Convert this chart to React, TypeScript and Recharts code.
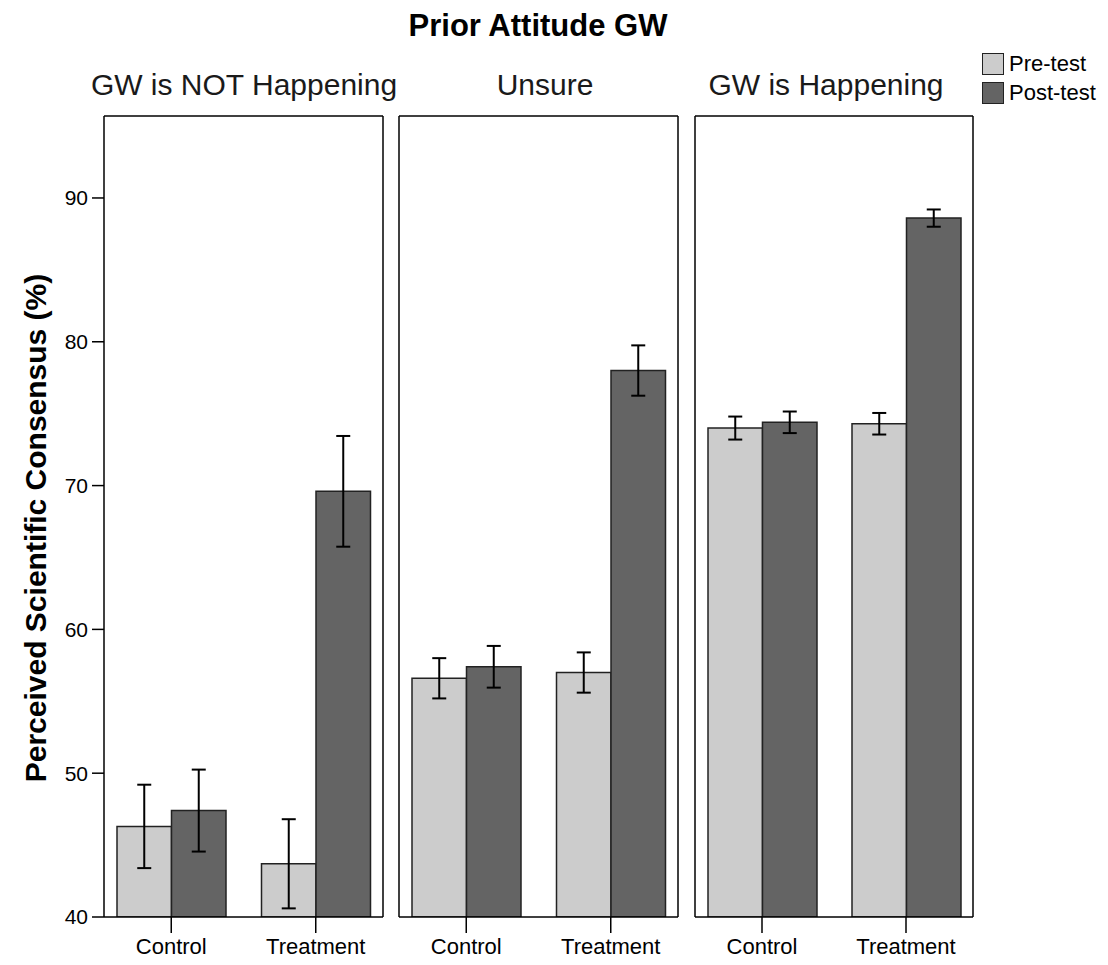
import { Bar, BarChart, ErrorBar, Label, Legend, XAxis, YAxis } from 'recharts';

const groups = ['Control', 'Treatment'];
const attitudes = ['GW is NOT Happening', 'Unsure', 'GW is Happening'];
const preTest = [[46.3, 43.7], [56.6, 57.0], [74.0, 74.3]];
const postTest = [[47.4, 69.6], [57.4, 78.0], [74.4, 88.6]];
const preErr = [[2.9, 3.1], [1.4, 1.4], [0.8, 0.75]];
const postErr = [[2.85, 3.85], [1.45, 1.75], [0.75, 0.6]];
const yTicks = [40, 50, 60, 70, 80, 90];

const font = '"Liberation Sans", Arial, sans-serif';
const PRE = '#cccccc';
const POST = '#646464';
const EDGE = '#222222';
const frame = { stroke: '#000', strokeWidth: 1.5 };

// margins leave room for 1px frame axes (top x axis, right y axis, left y axis on panels 2-3)
const panels = [
  { left: 0, width: 390, margin: { top: 115, right: 6, bottom: 0, left: 0 }, yWidth: 104, titleX: 244 },
  { left: 390, width: 300, margin: { top: 115, right: 11, bottom: 0, left: 8 }, yWidth: 1, titleX: 545 },
  { left: 690, width: 418, margin: { top: 115, right: 134, bottom: 0, left: 4 }, yWidth: 1, titleX: 826 },
];

function LegendBox() {
  const items = [
    { name: 'Pre-test', color: PRE },
    { name: 'Post-test', color: POST },
  ];
  return (
    <div style={{ fontFamily: font, fontSize: 22, color: '#000' }}>
      {items.map((it) => (
        <div key={it.name} style={{ display: 'flex', alignItems: 'center', height: 22, marginBottom: 7 }}>
          <div style={{ width: 22, height: 22, boxSizing: 'border-box', background: it.color, border: '1.5px solid ' + EDGE, marginRight: 5 }} />
          <span>{it.name}</span>
        </div>
      ))}
    </div>
  );
}

function Panel({ idx }: { idx: number }) {
  const p = panels[idx];
  const data = groups.map((g, j) => ({
    group: g,
    pre: preTest[idx][j],
    post: postTest[idx][j],
    preErr: preErr[idx][j],
    postErr: postErr[idx][j],
  }));
  return (
    <div style={{ position: 'absolute', left: p.left, top: 0 }}>
      <BarChart width={p.width} height={965} data={data} margin={p.margin} barGap={0} barSize={54.5}>
        <XAxis
          dataKey="group"
          height={48}
          interval={0}
          padding={{ left: -5, right: -5 }}
          tickSize={16}
          tickMargin={5}
          tick={{ fill: '#000', fontSize: 22, fontFamily: font }}
          tickLine={frame}
          axisLine={frame}
        />
        <XAxis xAxisId="top" orientation="top" dataKey="group" height={1} tick={false} tickLine={false} axisLine={frame} />
        <YAxis
          domain={[40, 95.7]}
          ticks={yTicks}
          width={p.yWidth}
          tick={idx === 0 ? { fill: '#000', fontSize: 21, fontFamily: font } : false}
          tickSize={idx === 0 ? 12 : 0}
          tickMargin={4}
          tickLine={idx === 0 ? frame : false}
          axisLine={frame}
          allowDataOverflow
        >
          {idx === 0 && (
            <Label
              content={() => (
                <text
                  x={35}
                  y={528}
                  transform="rotate(-90 35 528)"
                  textAnchor="middle"
                  dominantBaseline="central"
                  style={{ fontFamily: font, fontSize: 30, fontWeight: 700, fill: '#000' }}
                >
                  Perceived Scientific Consensus (%)
                </text>
              )}
            />
          )}
        </YAxis>
        <YAxis yAxisId="right" orientation="right" width={1} domain={[0, 1]} tick={false} tickLine={false} axisLine={frame} />
        <Bar dataKey="pre" name="Pre-test" fill={PRE} stroke={EDGE} strokeWidth={1.5} isAnimationActive={false}>
          <ErrorBar dataKey="preErr" width={7} stroke="#000" strokeWidth={2} />
        </Bar>
        <Bar dataKey="post" name="Post-test" fill={POST} stroke={EDGE} strokeWidth={1.5} isAnimationActive={false}>
          <ErrorBar dataKey="postErr" width={7} stroke="#000" strokeWidth={2} />
        </Bar>
        {idx === 2 && (
          <Legend
            layout="vertical"
            align="center"
            verticalAlign="middle"
            content={() => <LegendBox />}
            wrapperStyle={{ left: 292, top: 53, width: 130, height: 60 }}
          />
        )}
      </BarChart>
    </div>
  );
}

export default function App() {
  return (
    <div style={{ position: 'absolute', left: 0, top: 0, width: 1108, height: 965, background: '#fff' }}>
      <svg width={1108} height={110} style={{ position: 'absolute', left: 0, top: 0 }}>
        <text x={538} y={36} textAnchor="middle" style={{ fontFamily: font, fontSize: 31, fontWeight: 700, fill: '#000' }}>
          Prior Attitude GW
        </text>
        {attitudes.map((a, i) => (
          <text key={a} x={panels[i].titleX} y={95} textAnchor="middle" style={{ fontFamily: font, fontSize: 30, fill: '#1a1a1a' }}>
            {a}
          </text>
        ))}
      </svg>
      {panels.map((_, i) => (
        <Panel key={i} idx={i} />
      ))}
    </div>
  );
}
